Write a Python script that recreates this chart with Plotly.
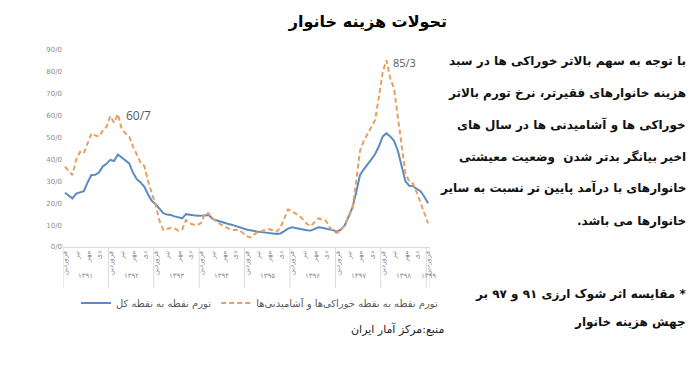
import plotly.graph_objects as go

# ---------------- data ----------------
years = ["۱۳۹۱", "۱۳۹۲", "۱۳۹۳", "۱۳۹۴", "۱۳۹۵", "۱۳۹۶", "۱۳۹۷", "۱۳۹۸", "۱۳۹۹"]
quarter_months = ["فروردین", "تیر", "مهر", "دی"]

total_inflation = [
    24.8, 23.5, 22.2, 24.4, 24.8, 25.5, 29.5, 32.9, 33.0, 34.0, 36.8, 38.0,
    39.8, 39.3, 42.3, 41.0, 39.5, 38.2, 34.0, 31.0, 29.5, 27.5, 24.0, 21.0,
    19.5, 17.7, 15.5, 14.8, 14.6, 14.0, 13.5, 13.1, 15.0, 14.6, 14.5, 14.3,
    14.2, 14.4, 14.6, 13.0, 12.2, 11.6, 11.1, 10.6, 10.2, 9.6, 9.0, 8.5,
    8.0, 7.6, 7.2, 7.0, 6.8, 6.6, 6.4, 6.2, 6.0, 6.2, 7.2, 8.4,
    9.0, 8.6, 8.3, 8.0, 7.7, 7.5, 8.3, 9.0, 8.8, 8.5, 8.2, 7.6,
    7.0, 8.0, 10.0, 14.0, 18.0, 25.0, 32.9, 35.5, 37.5, 40.0, 42.5, 46.0,
    50.5, 51.9, 50.5, 48.5, 44.0, 37.0, 30.0, 28.0, 27.9, 26.5, 25.5, 23.0,
    20.0,
]

food_inflation = [
    36.7, 35.0, 32.9, 40.0, 43.5, 42.8, 47.0, 51.9, 51.0, 50.4, 53.0, 54.9,
    59.8, 56.8, 60.7, 54.0, 52.0, 50.4, 46.0, 42.0, 38.5, 37.0, 30.0, 24.5,
    19.0, 12.0, 7.8, 8.2, 8.8, 8.5, 7.5, 8.0, 12.3, 10.8, 10.2, 10.0,
    11.0, 15.4, 15.4, 13.0, 11.6, 10.5, 9.5, 8.5, 7.8, 7.8, 7.8, 6.5,
    5.0, 4.4, 5.5, 7.0, 7.3, 7.8, 8.2, 7.5, 7.0, 9.0, 13.0, 17.2,
    16.2, 15.2, 14.2, 12.5, 10.5, 9.6, 11.5, 13.1, 12.5, 12.0, 9.0, 7.0,
    6.5, 8.0, 10.0, 14.0, 17.7, 30.0, 44.0, 48.5, 51.9, 55.0, 58.0, 68.6,
    80.0, 85.3, 77.0, 72.4, 60.0, 48.0, 33.6, 30.0, 29.0, 25.0, 20.0, 15.0,
    10.8,
]

y_ticks = [0, 10, 20, 30, 40, 50, 60, 70, 80, 90]
y_ticktext = [f"{v}/0" for v in y_ticks]

peak_labels = [(14, 60.7, "60/7"), (85, 85.3, "85/3")]

title_text = "تحولات هزینه خانوار"
side_lines = [
    "با توجه به سهم بالاتر خوراکی ها در سبد",
    "هزینه خانوارهای فقیرتر، نرخ تورم بالاتر",
    "خوراکی ها و آشامیدنی ها در سال های",
    "اخیر بیانگر بدتر شدن  وضعیت معیشتی",
    "خانوارهای با درآمد پایین تر نسبت به سایر",
    "خانوارها می باشد.",
]
note_lines = [
    "* مقایسه اثر شوک ارزی ۹۱ و ۹۷ بر",
    "جهش هزینه خانوار",
]
source_text = "منبع:مرکز آمار ایران"
legend_total = "تورم نقطه به نقطه کل"
legend_food = "تورم نقطه به نقطه خوراکی‌ها و آشامیدنی‌ها"

# ---------------- layout geometry ----------------
W, H = 700, 365
L, R, T, B = 63, 270, 50, 118
PW, PH = W - L - R, H - T - B
RLM = "\u200f"


def pxx(x):
    return (x - L) / PW


def pxy(y):
    return (H - B - y) / PH


FONT = "DejaVu Sans"
n = len(total_inflation)
xs = list(range(n))

fig = go.Figure()
fig.add_trace(go.Scatter(
    x=xs, y=total_inflation, mode="lines", name=legend_total,
    line=dict(color="#5b8bc2", width=2),
))
fig.add_trace(go.Scatter(
    x=xs, y=food_inflation, mode="lines", name=legend_food,
    line=dict(color="#e6a062", width=2, dash="5px,3px"),
))

tickvals = [i for i in range(n) if i % 3 == 0]
ticktext = [quarter_months[(i % 12) // 3] for i in tickvals]

fig.update_xaxes(
    range=[-0.5, n - 0.5], tickvals=tickvals, ticktext=ticktext,
    tickangle=-90, tickfont=dict(size=7, color="#8c8c8c", family=FONT),
    showgrid=False, zeroline=False, showline=True, linecolor="#d9d9d9",
    linewidth=1, ticks="", automargin=False,
)
fig.update_yaxes(
    range=[0, 90], tickvals=y_ticks, ticktext=y_ticktext,
    tickfont=dict(size=7, color="#8c8c8c", family=FONT),
    showgrid=False, zeroline=False, showline=False, ticks="", automargin=False,
)

shapes = []
seps = [-0.5 + 12 * k for k in range(9)] + [n - 1.5, n - 0.5]
for s in sorted(set(seps)):
    shapes.append(dict(type="line", xref="x", yref="paper", x0=s, x1=s,
                       y0=0, y1=pxy(288), line=dict(color="#d9d9d9", width=1)))

annotations = []
for k, yr in enumerate(years):
    cx = 12 * k + 5.5 if k < 8 else n - 1
    annotations.append(dict(x=cx, xref="x", y=pxy(282), yref="paper",
                            text=yr, showarrow=False,
                            font=dict(size=7, color="#8c8c8c", family=FONT)))

for xi, yv, txt in peak_labels:
    big = txt == "60/7"
    annotations.append(dict(x=xi + (1.6 if big else 1.2), y=yv - (0.5 if big else 0.8),
                            xref="x", yref="y",
                            text=txt, showarrow=False, xanchor="left",
                            yanchor="middle",
                            font=dict(size=12 if big else 11,
                                      color="#595959", family="Open Sans")))

side_ys = [62, 93, 125, 157, 188, 221]
for txt, yy in zip(side_lines + note_lines, side_ys + [294, 322]):
    annotations.append(dict(x=pxx(688), y=pxy(yy), xref="paper", yref="paper",
                            text="<b>" + RLM + txt + RLM + "</b>", showarrow=False,
                            xanchor="right", align="right",
                            yanchor="middle",
                            font=dict(size=12, color="#111111", family=FONT)))

annotations.append(dict(x=pxx(446), y=pxy(329), xref="paper", yref="paper",
                        text=source_text, showarrow=False, xanchor="right",
                        yanchor="middle",
                        font=dict(size=11, color="#222222", family=FONT)))

fig.update_layout(
    width=W, height=H,
    margin=dict(l=L, r=R, t=T, b=B, autoexpand=False),
    paper_bgcolor="white", plot_bgcolor="white",
    title=dict(text="<b>" + title_text + "</b>", x=368 / W, xanchor="center",
               y=1 - 21 / H, yanchor="middle", automargin=False,
               font=dict(size=16, color="#000000", family=FONT)),
    showlegend=True,
    legend=dict(orientation="h", x=pxx(76), y=pxy(303), xanchor="left",
                yanchor="middle", font=dict(size=10, color="#595959", family=FONT),
                itemwidth=30, bgcolor="rgba(0,0,0,0)"),
    shapes=shapes, annotations=annotations,
)

fig.write_html("out.html",
               config={"displayModeBar": False},
               post_script="document.body.style.margin='0px';"
                           "document.body.style.overflow='hidden';")
